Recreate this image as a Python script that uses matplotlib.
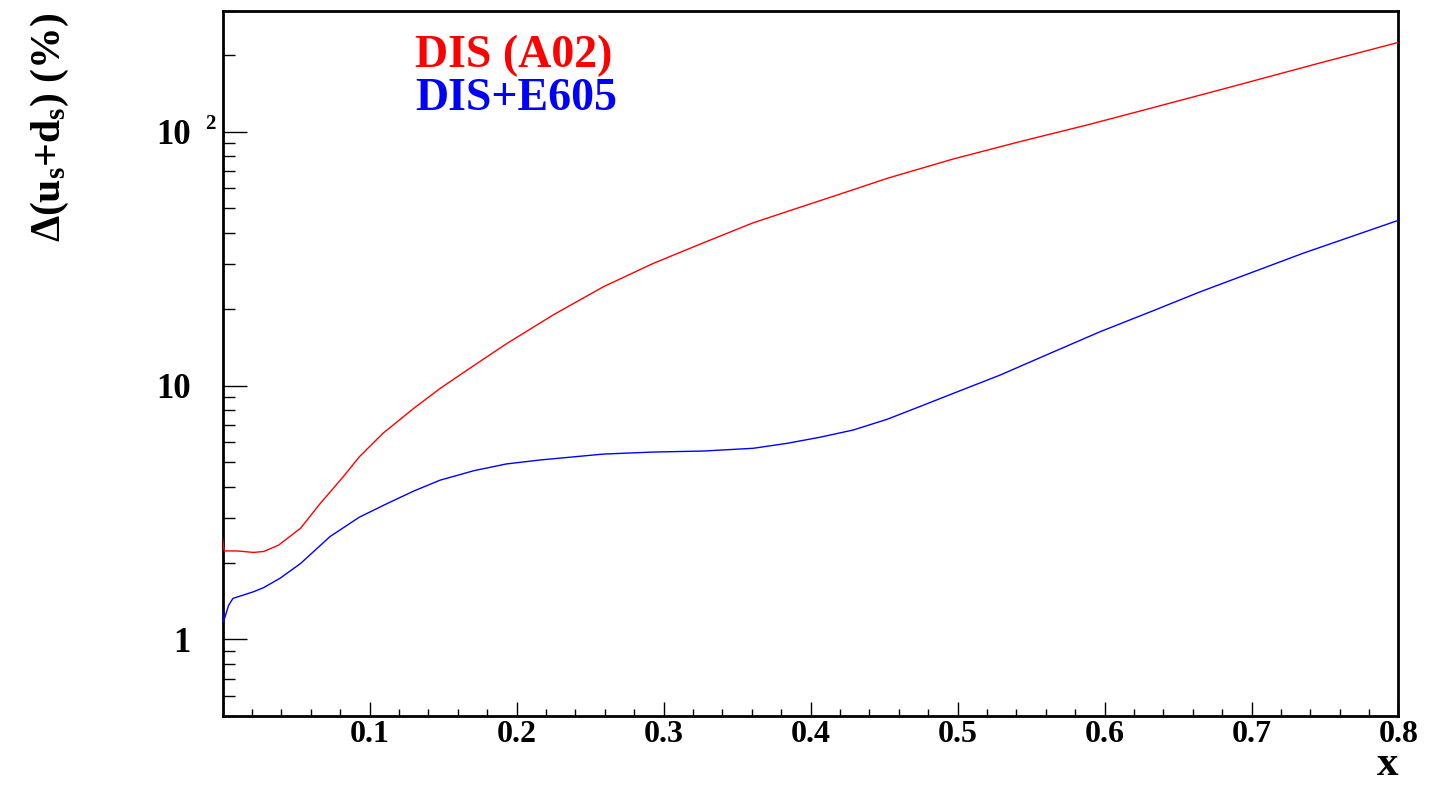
import matplotlib
matplotlib.use("Agg")
from matplotlib import pyplot as plt
from matplotlib import transforms
from matplotlib.ticker import FixedLocator, FixedFormatter, LogLocator, MultipleLocator, NullFormatter

# Curves (x, relative uncertainty in %)
x_a02 = [0.0, 0.001, 0.01, 0.021, 0.028, 0.038, 0.053, 0.066, 0.082, 0.093, 0.109,
         0.130, 0.148, 0.171, 0.193, 0.225, 0.259, 0.293, 0.327, 0.361, 0.395,
         0.420, 0.452, 0.497, 0.542, 0.588, 0.624, 0.678, 0.747, 0.800]
y_a02 = [2.48, 2.23, 2.23, 2.20, 2.22, 2.35, 2.74, 3.41, 4.37, 5.24, 6.48,
         8.13, 9.75, 12.0, 14.6, 19.0, 24.5, 30.3, 36.5, 43.8, 50.9,
         56.8, 65.5, 78.1, 91.3, 106.3, 120.6, 146.0, 187.0, 225.0]

x_e605 = [0.0, 0.0005, 0.004, 0.007, 0.021, 0.028, 0.039, 0.053, 0.073, 0.093, 0.112,
          0.130, 0.148, 0.171, 0.193, 0.216, 0.259, 0.293, 0.327, 0.361, 0.384, 0.406,
          0.429, 0.452, 0.474, 0.497, 0.529, 0.563, 0.597, 0.631, 0.665, 0.735, 0.800]
y_e605 = [1.31, 1.17, 1.36, 1.45, 1.54, 1.60, 1.74, 1.99, 2.54, 3.03, 3.43,
          3.84, 4.24, 4.62, 4.91, 5.09, 5.37, 5.47, 5.52, 5.66, 5.92, 6.25,
          6.68, 7.36, 8.25, 9.31, 11.0, 13.4, 16.3, 19.5, 23.4, 33.2, 44.8]

series_labels = ["DIS (A02)", "DIS+E605"]
x_ticks = [0.1, 0.2, 0.3, 0.4, 0.5, 0.6, 0.7, 0.8]
x_tick_labels = ["0.1", "0.2", "0.3", "0.4", "0.5", "0.6", "0.7", "0.8"]
y_ticks = [1, 10, 100]
y_tick_labels = ["1", "10", "10"]

# ROOT-like look: bold Times-style text
plt.rcParams["font.family"] = ["Liberation Serif", "DejaVu Serif"]
plt.rcParams["font.weight"] = "bold"
plt.rcParams["mathtext.fontset"] = "custom"
plt.rcParams["mathtext.rm"] = "Liberation Serif"
plt.rcParams["mathtext.bf"] = "Liberation Serif:bold"
plt.rcParams["mathtext.it"] = "Liberation Serif:italic"

fig = plt.figure(figsize=(14.32, 7.86), dpi=100)
ax = fig.add_axes([0.1555, 0.0894, 0.8211, 0.8970])

# curves drawn over the frame, as in the original (spike at x=0 sits on the axis)
ax.plot(x_a02, y_a02, color="#ff0000", lw=1.0, zorder=3)
ax.plot(x_e605, y_e605, color="#0000ff", lw=1.0, zorder=3)

ax.set_yscale("log")
ax.set_xlim(0, 0.8)
ax.set_ylim(0.5, 300)

# Axis ticks
ax.xaxis.set_major_locator(FixedLocator(x_ticks))
ax.xaxis.set_major_formatter(FixedFormatter(x_tick_labels))
ax.xaxis.set_minor_locator(MultipleLocator(0.02))
ax.yaxis.set_major_locator(FixedLocator(y_ticks))
ax.yaxis.set_major_formatter(FixedFormatter(y_tick_labels))
ax.yaxis.set_minor_locator(LogLocator(base=10, subs=range(2, 10)))
ax.yaxis.set_minor_formatter(NullFormatter())

ax.tick_params(axis="x", which="major", direction="in", length=10, width=1.0,
               labelsize=23, pad=3, top=False)
ax.tick_params(axis="x", which="minor", direction="in", length=5, width=1.0, top=False)
ax.tick_params(axis="y", which="major", direction="in", length=17, width=1.0,
               labelsize=25, pad=23, right=False)
ax.tick_params(axis="y", which="minor", direction="in", length=8.5, width=1.0, right=False)
for lab in ax.get_xticklabels() + ax.get_yticklabels():
    lab.set_fontweight("bold")

for side in ax.spines.values():
    side.set_linewidth(2.0)

# exponent of the 10^2 label, ROOT style
sup = transforms.offset_copy(ax.get_yaxis_transform(), fig=fig, x=0, y=3, units="dots")
ax.text(-0.015, 100, "2", transform=sup, ha="left", va="baseline",
        fontsize=15, fontweight="bold")

# Series names
ax.text(0.1635, 0.9206, series_labels[0], transform=ax.transAxes, color="#ff0000",
        fontsize=33, fontweight="bold", ha="left", va="baseline")
ax.text(0.1635, 0.8596, series_labels[1], transform=ax.transAxes, color="#0000ff",
        fontsize=33, fontweight="bold", ha="left", va="baseline")

# Axis titles
fig.text(1398 / 1432, 2 / 786, "x", ha="right", va="bottom", fontsize=31, fontweight="bold")
fig.text(50 / 1432, 1 - 13 / 786,
         r"$\mathbf{\Delta(u}_{\mathrm{s}}\mathbf{+d}_{\mathrm{s}}\mathbf{)}\ \mathrm{(\%)}$",
         rotation=90, ha="center", va="top", fontsize=30)

plt.savefig("out.png", dpi=100)
